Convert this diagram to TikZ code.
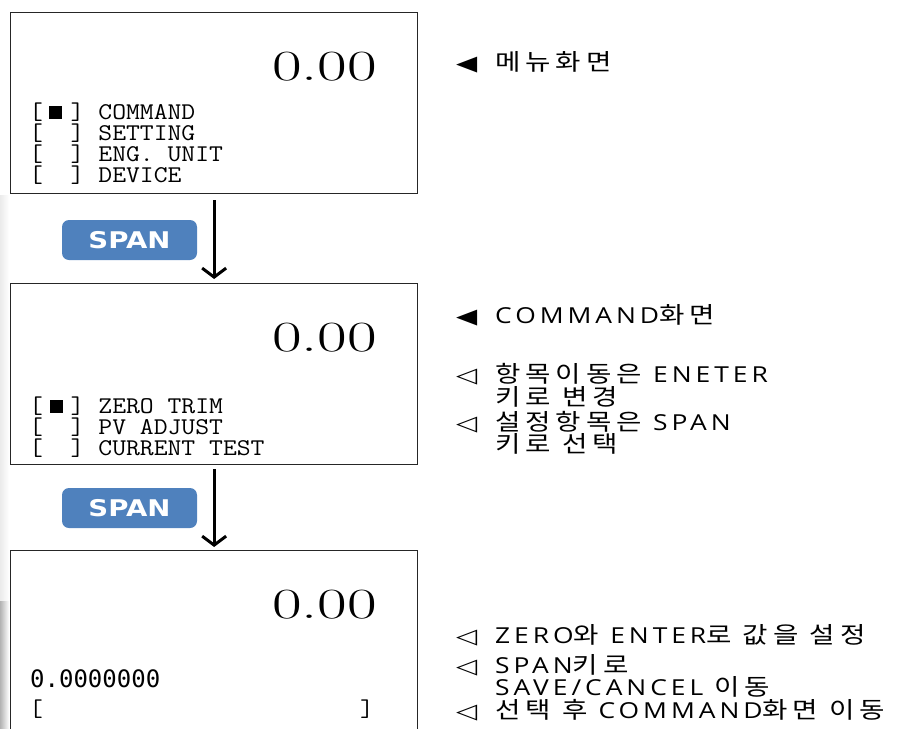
\documentclass[tikz,border=0pt]{standalone}
\usepackage{fontspec}
\usepackage{graphicx}
\usetikzlibrary{arrows.meta}
\newfontfamily\kor[LetterSpace=18,WordSpace=1.0]{Noto Sans CJK KR}
\newfontfamily\latf[LetterSpace=15]{Open Sans}
\newfontfamily\symf{DejaVu Sans}
\newfontfamily\digmono{DejaVu Sans Mono}
\newfontfamily\btnfont{DejaVu Sans}
\definecolor{btnblue}{RGB}{79,129,189}
\newcommand{\lcdline}[1]{\scalebox{1.12}[1]{#1}}
\newcommand{\trisym}[1]{\scalebox{1.45}[1.1]{#1}}
\newcommand{\ktx}[1]{\scalebox{1.2}[1]{#1}}
\newcommand{\lt}[1]{{\latf\fontsize{22}{22}\selectfont #1}}
\begin{document}
\begin{tikzpicture}[x=1pt,y=-1pt,
  screen/.style={draw=black!85, line width=1.3pt, anchor=north west, inner sep=0pt, minimum width=407pt},
  bigval/.style={anchor=base west, inner sep=0pt, font=\fontsize{43}{43}\selectfont},
  lcd/.style={anchor=base west, inner sep=0pt, text height=15pt, text depth=3pt, font=\ttfamily\fontsize{24}{24}\selectfont},
  lcdsans/.style={anchor=base west, inner sep=0pt, font=\digmono\fontsize{24}{24}\selectfont},
  selbox/.style={fill=black, inner sep=0pt, minimum width=13pt, minimum height=13pt},
  btn/.style={fill=btnblue, rounded corners=7pt, minimum width=135pt, minimum height=40pt, inner sep=0pt, text=white, font=\btnfont\bfseries\fontsize{23}{23}\selectfont},
  flow/.style={-{Straight Barb[length=9pt,width=24pt,line width=3pt]}, line width=3pt},
  kortxt/.style={anchor=base west, inner sep=0pt, font=\kor\fontsize{23}{23}\selectfont},
  tri/.style={anchor=base west, inner sep=0pt, font=\symf\fontsize{19}{19}\selectfont}
]
\useasboundingbox (0,0) rectangle (915,728);
\clip (0,0) rectangle (915,728);
% faint edge shading
\shade[left color=black!30, right color=white] (0,600) rectangle (9,728);
\shade[left color=black!8, right color=white] (0,195) rectangle (9,600);

% screens
\node[screen, minimum height=181pt] (s1) at (10,12) {};
\node[screen, minimum height=181pt] (s2) at (10,283) {};
\node[screen, minimum height=200pt] (s3) at (10,550) {};

% screen 1
\node[bigval] (v1) at (272,80) {\scalebox{1.5}[1]{0.00}};
\node[lcd] (m11) at (29,119) {\lcdline{[~~]~COMMAND}};
\node[lcd] (m12) at (29,140) {\lcdline{[~~]~SETTING}};
\node[lcd] (m13) at (29,161) {\lcdline{[~~]~ENG.~UNIT}};
\node[lcd] (m14) at (29,182) {\lcdline{[~~]~DEVICE}};
\node[selbox] (q1) at (55,112.5) {};

% screen 2
\node[bigval] (v2) at (272,351) {\scalebox{1.5}[1]{0.00}};
\node[lcd] (m21) at (29,413) {\lcdline{[~~]~ZERO~TRIM}};
\node[lcd] (m22) at (29,434) {\lcdline{[~~]~PV~ADJUST}};
\node[lcd] (m23) at (29,455) {\lcdline{[~~]~CURRENT~TEST}};
\node[selbox] (q2) at (56,406) {};

% screen 3
\node[bigval] (v3) at (272,618) {\scalebox{1.5}[1]{0.00}};
\node[lcdsans] (d3) at (30,687) {0.0000000};
\node[lcd] (b3l) at (29,716) {\lcdline{[}};
\node[lcd] (b3r) at (360,716) {\lcdline{]}};

% buttons and arrows
\node[btn] (k1) at (129.5,240) {\scalebox{1.2}[1]{SPAN}};
\node[btn] (k2) at (129.5,508) {\scalebox{1.2}[1]{SPAN}};
\draw[flow, shorten <=6pt, shorten >=4pt] (s1.south) -- (s2.north);
\draw[flow, shorten <=4pt, shorten >=3pt] (s2.south) -- (s3.north);

% right column
\node[tri] (t1) at (456,70) {\trisym{◀}};
\node[kortxt] (r1) at (495,70) {\ktx{메뉴화면}};
\node[tri] (t2) at (456,323) {\trisym{◀}};
\node[kortxt] (r2) at (495,323) {\ktx{\lt{COMMAND}화면}};
\node[tri] (t3) at (456,382) {\trisym{◁}};
\node[kortxt] (r3) at (495,382) {\ktx{항목이동은 \lt{ENETER}}};
\node[kortxt] (r3b) at (495,405) {\ktx{키로 변경}};
\node[tri] (t4) at (456,430) {\trisym{◁}};
\node[kortxt] (r4) at (495,430) {\ktx{설정항목은 \lt{SPAN}}};
\node[kortxt] (r4b) at (495,452) {\ktx{키로 선택}};
\node[tri] (t5) at (456,643) {\trisym{◁}};
\node[kortxt] (r5) at (495,643) {\ktx{\lt{ZERO}와 \lt{ENTER}로 값을 설정}};
\node[tri] (t6) at (456,673) {\trisym{◁}};
\node[kortxt] (r6) at (495,673) {\ktx{\lt{SPAN}키로}};
\node[kortxt] (r6b) at (495,695) {\ktx{\lt{SAVE/CANCEL} 이동}};
\node[tri] (t7) at (456,718) {\trisym{◁}};
\node[kortxt] (r7) at (495,718) {\ktx{선택 후 \lt{COMMAND}화면 이동}};
\end{tikzpicture}
\end{document}
